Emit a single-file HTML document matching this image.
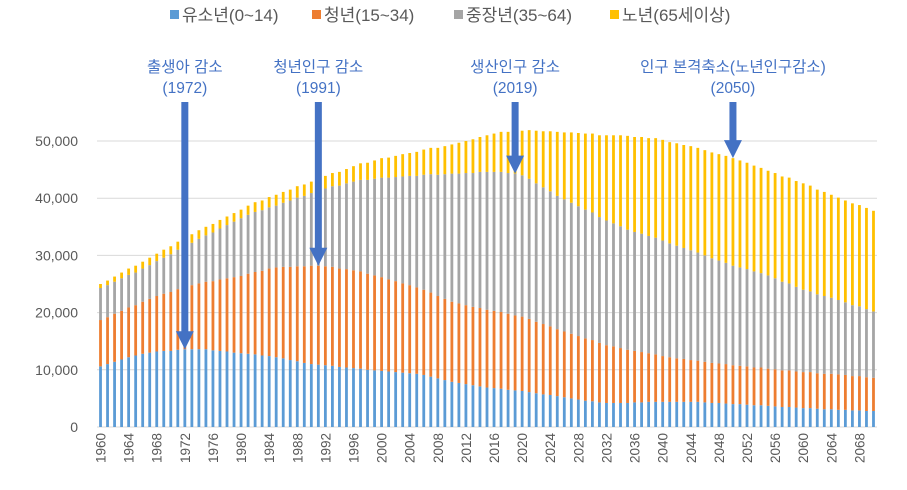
<!DOCTYPE html>
<html><head><meta charset="utf-8"><style>
html,body{margin:0;padding:0;background:#fff;}
svg{display:block;font-family:"Liberation Sans","Noto Sans CJK KR",sans-serif;}
</style></head><body>
<svg id="chart" width="907" height="490" viewBox="0 0 907 490" xmlns="http://www.w3.org/2000/svg">
<g id="grid"></g>
<g id="yticks"></g>
<g id="bars"></g>
<g id="xticks"></g>
<g id="legend"></g>
<g id="notes"></g>
</svg>
<script>
const years = []; for (let y = 1960; y <= 2070; y++) years.push(y);
const youth = [10.6,11.0,11.4,11.8,12.2,12.5,12.8,13.0,13.2,13.3,
13.3,13.5,13.6,13.6,13.6,13.6,13.4,13.3,13.2,13.0,
12.9,12.8,12.7,12.5,12.4,12.2,12.0,11.7,11.5,11.2,
11.0,10.9,10.8,10.7,10.5,10.4,10.3,10.2,10.0,9.9,
9.8,9.7,9.6,9.5,9.4,9.3,9.1,8.8,8.5,8.2,
7.9,7.7,7.5,7.3,7.1,6.9,6.8,6.7,6.5,6.4,
6.3,6.1,5.9,5.7,5.6,5.4,5.2,5.0,4.8,4.6,
4.5,4.3,4.2,4.2,4.2,4.2,4.3,4.3,4.4,4.4,
4.4,4.4,4.4,4.4,4.4,4.4,4.3,4.2,4.2,4.1,
4.0,4.0,3.9,3.8,3.8,3.7,3.6,3.5,3.5,3.4,
3.3,3.3,3.2,3.1,3.1,3.0,3.0,2.9,2.9,2.8,2.8];
const young = [8.1,8.2,8.4,8.5,8.7,8.8,9.1,9.4,9.7,10.0,
10.3,10.6,10.9,11.2,11.5,11.8,12.1,12.5,12.8,13.2,
13.5,14.0,14.4,14.8,15.3,15.7,16.0,16.3,16.6,16.9,
17.2,17.3,17.3,17.3,17.2,17.2,17.1,17.0,16.8,16.6,
16.4,16.1,15.9,15.6,15.4,15.1,14.9,14.7,14.4,14.2,
14.0,13.9,13.8,13.7,13.7,13.6,13.5,13.4,13.3,13.1,
13.0,12.8,12.5,12.3,12.0,11.7,11.5,11.3,11.1,10.9,
10.7,10.4,10.1,9.9,9.6,9.3,9.0,8.8,8.5,8.3,
8.0,7.8,7.6,7.5,7.3,7.2,7.1,7.0,6.9,6.9,
6.8,6.7,6.7,6.6,6.6,6.5,6.5,6.4,6.4,6.3,
6.3,6.3,6.2,6.2,6.2,6.2,6.1,6.0,6.0,5.9,5.8];
const middle = [5.6,5.6,5.6,5.7,5.7,5.7,5.8,5.9,6.1,6.3,
6.6,6.9,7.1,7.4,7.8,8.1,8.5,8.9,9.3,9.7,
10.1,10.3,10.5,10.6,10.7,10.8,11.2,11.6,12.0,12.3,
12.7,13.2,13.6,14.1,14.5,15.0,15.5,16.0,16.4,16.9,
17.4,17.8,18.2,18.7,19.1,19.5,20.1,20.7,21.2,21.8,
22.4,22.7,23.1,23.4,23.8,24.1,24.3,24.5,24.6,24.8,
24.7,24.5,24.2,23.9,23.6,23.3,23.1,22.9,22.7,22.5,
22.3,22.0,21.8,21.5,21.3,21.0,20.8,20.7,20.5,20.4,
20.2,19.9,19.7,19.4,19.2,18.9,18.6,18.3,18.0,17.7,
17.4,17.2,17.0,16.8,16.5,16.3,15.9,15.5,15.2,14.8,
14.4,14.1,13.8,13.6,13.3,13.0,12.7,12.4,12.2,11.9,11.6];
const elderly = [0.7,0.8,0.9,1.0,1.1,1.2,1.2,1.3,1.3,1.4,
1.4,1.4,1.5,1.5,1.5,1.5,1.5,1.5,1.5,1.5,
1.5,1.6,1.7,1.7,1.8,1.9,1.9,1.9,2.0,2.0,
2.0,2.1,2.2,2.3,2.4,2.5,2.7,2.9,3.0,3.2,
3.4,3.5,3.7,3.9,4.0,4.2,4.4,4.6,4.7,4.9,
5.1,5.4,5.6,5.9,6.1,6.4,6.7,7.0,7.2,7.5,
7.8,8.5,9.2,9.8,10.5,11.2,11.7,12.3,12.8,13.3,
13.8,14.3,14.9,15.4,15.9,16.4,16.6,16.9,17.1,17.4,
17.6,17.7,17.9,18.0,18.2,18.3,18.4,18.5,18.6,18.7,
18.8,18.7,18.6,18.5,18.4,18.3,18.4,18.4,18.5,18.5,
18.6,18.5,18.3,18.2,18.0,17.9,17.8,17.8,17.7,17.7,17.6];
const yTicks = [0,10000,20000,30000,40000,50000];
const seriesNames = ['유소년(0~14)','청년(15~34)','중장년(35~64)','노년(65세이상)'];
const seriesColors = ['#5B9BD5','#ED7D31','#A5A5A5','#FFC000'];
const noteYears = [1972,1991,2019,2050];
const noteLine1 = ['출생아 감소','청년인구 감소','생산인구 감소','인구 본격축소(노년인구감소)'];
const noteLine2 = ['(1972)','(1991)','(2019)','(2050)'];

const NS = 'http://www.w3.org/2000/svg';
const X0 = 97, X1 = 877, Y0 = 427, YTOP = 141, VMAX = 50000;
const band = (X1 - X0) / years.length;
function xs(year){ return X0 + band * (years.indexOf(year) + 0.5); }
function ys(v){ return Y0 - (v / VMAX) * (Y0 - YTOP); }
function mk(tag, attrs, parent){ const e = document.createElementNS(NS, tag); for (const k in attrs) e.setAttribute(k, attrs[k]); parent.appendChild(e); return e; }

const grid = document.getElementById('grid'), yt = document.getElementById('yticks');
yTicks.forEach(t => {
  const l = mk('line', {x1:X0, x2:X1, y1:ys(t), y2:ys(t), stroke:'#D9D9D9', 'stroke-width':1}, grid);
  
  
  const tx = mk('text', {x:78, y:ys(t)+5, 'text-anchor':'end', 'font-size':14, fill:'#595959'}, yt);
  tx.textContent = t.toLocaleString('en-US');
  
  
});

const bars = document.getElementById('bars');
const series = [youth, young, middle, elderly];
const bw = 2.8;
years.forEach((yr, i) => {
  let base = 0;
  series.forEach((s, k) => {
    const v = s[i] * 1000;
    const r = mk('rect', {x:xs(yr)-bw/2, y:ys(base+v), width:bw, height:ys(base)-ys(base+v), fill:seriesColors[k]}, bars);
    
    
    base += v;
  });
});

const xt = document.getElementById('xticks');
years.forEach(yr => {
  if ((yr - 1960) % 4 !== 0) return;
  const x = xs(yr);
  const t = mk('text', {x:x+5, y:433, 'text-anchor':'end', 'font-size':13.5, fill:'#595959', transform:'rotate(-90 '+(x+5)+' 433)'}, xt);
  t.textContent = yr;
  
  
});

const lg = document.getElementById('legend');
const lgX = [170, 312, 454, 610];
seriesNames.forEach((n, k) => {
  const r = mk('rect', {x:lgX[k], y:10, width:9, height:9, fill:seriesColors[k]}, lg);
  
  
  const t = mk('text', {x:lgX[k]+12, y:21, 'font-size':17, fill:'#595959'}, lg);
  t.textContent = n;
  
  
});

const notes = document.getElementById('notes');
noteYears.forEach((yr, k) => {
  const x = xs(yr);
  const tip = ys((youth[years.indexOf(yr)] + (k>=1?young[years.indexOf(yr)]:0) + (k>=2?middle[years.indexOf(yr)]:0) + (k>=3?elderly[years.indexOf(yr)]:0)) * 1000);
  const t1 = mk('text', {x:x, y:72, 'text-anchor':'middle', 'font-size':15.5, fill:'#4472C4'}, notes);
  t1.textContent = noteLine1[k];
  
  
  const t2 = mk('text', {x:x, y:93, 'text-anchor':'middle', 'font-size':15.5, fill:'#4472C4'}, notes);
  t2.textContent = noteLine2[k];
  
  
  const a = mk('path', {d:'M'+(x-3.5)+' 102 L'+(x+3.5)+' 102 L'+(x+3.5)+' '+(tip-18)+' L'+(x+9)+' '+(tip-18)+' L'+x+' '+tip+' L'+(x-9)+' '+(tip-18)+' L'+(x-3.5)+' '+(tip-18)+' Z', fill:'#4472C4'}, notes);
  
  
});
</script>
</body></html>
